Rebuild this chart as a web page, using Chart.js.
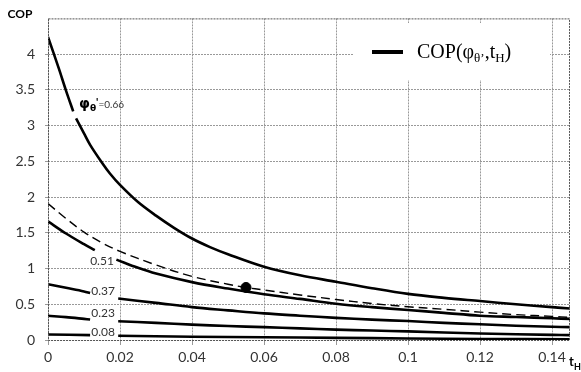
<!DOCTYPE html>
<html>
<head>
<meta charset="utf-8">
<script src="https://cdn.jsdelivr.net/npm/chart.js@4"></script>
<style>
  body { margin: 0; background: #fff; }
  canvas { display: block; }
</style>
</head>
<body>
<canvas id="copChart" width="581" height="372"></canvas>
<script>
// tick labels
const xTicks = [0, 0.02, 0.04, 0.06, 0.08, 0.1, 0.12, 0.14];
const yTicks = [0, 0.5, 1, 1.5, 2, 2.5, 3, 3.5, 4];

// curves (null = gap left for the label)
const t066 = [0, 0.003, 0.005, 0.007, 0.0074, 0.0078, 0.01, 0.0117, 0.015, 0.0172, 0.02, 0.025, 0.03, 0.035, 0.04, 0.045, 0.05, 0.06, 0.07, 0.08, 0.09, 0.1, 0.11, 0.12, 0.13, 0.14, 0.145];
const cop066 = [4.24, 3.8, 3.49, 3.2, null, 3.1, 2.89, 2.73, 2.48, 2.33, 2.17, 1.93, 1.74, 1.57, 1.42, 1.30, 1.20, 1.025, 0.905, 0.815, 0.725, 0.645, 0.59, 0.545, 0.50, 0.46, 0.44];

const tDash = [0, 0.005, 0.01, 0.015, 0.02, 0.03, 0.04, 0.05, 0.055, 0.06, 0.07, 0.08, 0.09, 0.1, 0.11, 0.12, 0.13, 0.14, 0.145];
const copDash = [1.91, 1.70, 1.51, 1.36, 1.24, 1.05, 0.89, 0.78, 0.735, 0.70, 0.63, 0.567, 0.51, 0.465, 0.43, 0.39, 0.355, 0.33, 0.317];

const t051 = [0, 0.005, 0.01, 0.013, 0.016, 0.019, 0.025, 0.03, 0.04, 0.05, 0.06, 0.07, 0.08, 0.09, 0.1, 0.11, 0.12, 0.13, 0.14, 0.145];
const cop051 = [1.66, 1.49, 1.34, 1.256, null, 1.125, 1.01, 0.93, 0.81, 0.72, 0.64, 0.575, 0.508, 0.46, 0.42, 0.38, 0.34, 0.322, 0.304, 0.295];

const t037 = [0, 0.005, 0.01, 0.0117, 0.015, 0.0195, 0.03, 0.04, 0.05, 0.06, 0.07, 0.08, 0.09, 0.1, 0.11, 0.12, 0.13, 0.14, 0.145];
const cop037 = [0.78, 0.73, 0.68, 0.657, null, 0.58, 0.52, 0.46, 0.415, 0.372, 0.34, 0.31, 0.285, 0.265, 0.24, 0.22, 0.20, 0.185, 0.18];

const t023 = [0, 0.005, 0.01, 0.0117, 0.015, 0.0195, 0.03, 0.04, 0.05, 0.06, 0.07, 0.08, 0.09, 0.1, 0.12, 0.14, 0.145];
const cop023 = [0.34, 0.32, 0.295, 0.286, null, 0.263, 0.24, 0.215, 0.195, 0.18, 0.162, 0.145, 0.132, 0.12, 0.09, 0.072, 0.068];

const t008 = [0, 0.0117, 0.015, 0.0195, 0.04, 0.06, 0.08, 0.1, 0.12, 0.145];
const cop008 = [0.077, 0.068, null, 0.06, 0.046, 0.038, 0.03, 0.022, 0.015, 0.01];

const markT = [0.055];
const markCop = [0.735];

// curve labels: text, t, COP
const curveLabels = [
    ['0.51', 0.0150, 1.10],
    ['0.37', 0.0153, 0.69],
    ['0.23', 0.0153, 0.37],
    ['0.08', 0.0153, 0.11]
];

function pts(ts, ys) {
    return ts.map((t, i) => ({ x: t, y: ys[i] }));
}

function solid(ts, ys) {
    return {
        data: pts(ts, ys),
        borderColor: '#000',
        borderWidth: 2.6,
        pointRadius: 0,
        tension: 0.35,
        spanGaps: false
    };
}

// frame, texts and legend
const extras = {
    id: 'extras',
    afterDatasetsDraw(chart) {
        const ctx = chart.ctx;
        const a = chart.chartArea;
        const xs = chart.scales.x, ys = chart.scales.y;

        ctx.save();
        ctx.strokeStyle = '#555';
        ctx.lineWidth = 1;
        ctx.setLineDash([2, 1]);
        ctx.strokeRect(a.left + 0.5, a.top + 0.5, a.right - a.left - 1, a.bottom - a.top);
        ctx.setLineDash([]);

        // curve labels
        ctx.fillStyle = '#333';
        ctx.font = '12px Lato';
        ctx.textAlign = 'center';
        ctx.textBaseline = 'middle';
        curveLabels.forEach(l => {
            ctx.fillText(l[0], xs.getPixelForValue(l[1]), ys.getPixelForValue(l[2]));
        });

        // phi label
        let px = xs.getPixelForValue(0.0086), py = ys.getPixelForValue(3.25);
        ctx.textAlign = 'left';
        ctx.textBaseline = 'alphabetic';
        ctx.fillStyle = '#000';
        ctx.font = 'bold 14px "DejaVu Sans"';
        ctx.fillText('φ', px, py);
        px += ctx.measureText('φ').width;
        ctx.font = 'bold 9px "DejaVu Sans"';
        ctx.fillText('θ', px, py + 3);
        px += ctx.measureText('θ').width;
        ctx.font = 'bold 11px Lato';
        ctx.fillText("'", px, py - 2);
        px += ctx.measureText("'").width;
        ctx.fillStyle = '#333';
        ctx.font = '10px Lato';
        ctx.fillText('=0.66', px, py);

        // axis titles
        ctx.fillStyle = '#000';
        ctx.font = 'bold 12px Lato';
        ctx.textAlign = 'center';
        ctx.fillText('COP', 20, 18);
        ctx.textAlign = 'left';
        ctx.font = 'bold 13px Lato';
        ctx.fillText('t', 569, 366);
        ctx.font = 'bold 9px Lato';
        ctx.fillText('H', 574, 370);

        // legend
        ctx.fillStyle = '#fff';
        ctx.fillRect(353, 23, 197, 57);
        ctx.strokeStyle = '#000';
        ctx.lineWidth = 4;
        ctx.beginPath();
        ctx.moveTo(372, 52);
        ctx.lineTo(403, 52);
        ctx.stroke();
        ctx.fillStyle = '#000';
        let lx = 417;
        const base = 58;
        const parts = [
            ['COP(', 20, 0], ['φ', 20, 0], ['θ\u2019', 13, 4], [',t', 20, 0], ['H', 13, 4], [')', 20, 0]
        ];
        parts.forEach(p => {
            ctx.font = p[1] + 'px "Liberation Serif"';
            ctx.fillText(p[0], lx, base + p[2]);
            lx += ctx.measureText(p[0]).width;
        });
        ctx.restore();
    }
};

new Chart(document.getElementById('copChart'), {
    type: 'line',
    data: {
        datasets: [
            solid(t066, cop066),
            {
                data: pts(tDash, copDash),
                borderColor: '#000',
                borderWidth: 1.4,
                borderDash: [9, 5],
                pointRadius: 0,
                tension: 0.35
            },
            solid(t051, cop051),
            solid(t037, cop037),
            solid(t023, cop023),
            solid(t008, cop008),
            {
                type: 'scatter',
                data: pts(markT, markCop),
                pointRadius: 5,
                pointBackgroundColor: '#000',
                pointBorderColor: '#000',
                showLine: false
            }
        ]
    },
    options: {
        responsive: false,
        animation: false,
        layout: { padding: { top: 10, right: 11, left: 0, bottom: 0 } },
        plugins: { legend: { display: false }, tooltip: { enabled: false } },
        scales: {
            x: {
                type: 'linear',
                min: 0,
                max: 0.145,
                afterBuildTicks: s => { s.ticks = xTicks.map(v => ({ value: v })); },
                afterFit: s => { s.height = 32; },
                ticks: { color: '#333', font: { family: 'Lato', size: 14 }, padding: 4, maxRotation: 0, callback: v => String(v) },
                grid: { color: '#999', tickLength: 5, tickColor: '#999' },
                border: { display: false, dash: [2, 1] }
            },
            y: {
                min: 0,
                max: 4.5,
                afterBuildTicks: s => { s.ticks = yTicks.map(v => ({ value: v })); },
                afterFit: s => { s.width = 48; },
                ticks: { color: '#333', font: { family: 'Lato', size: 14 }, padding: 10, callback: v => String(v) },
                grid: { color: '#999', tickLength: 3, tickColor: '#999' },
                border: { display: false, dash: [2, 1] }
            }
        }
    },
    plugins: [extras]
});
</script>
</body>
</html>
